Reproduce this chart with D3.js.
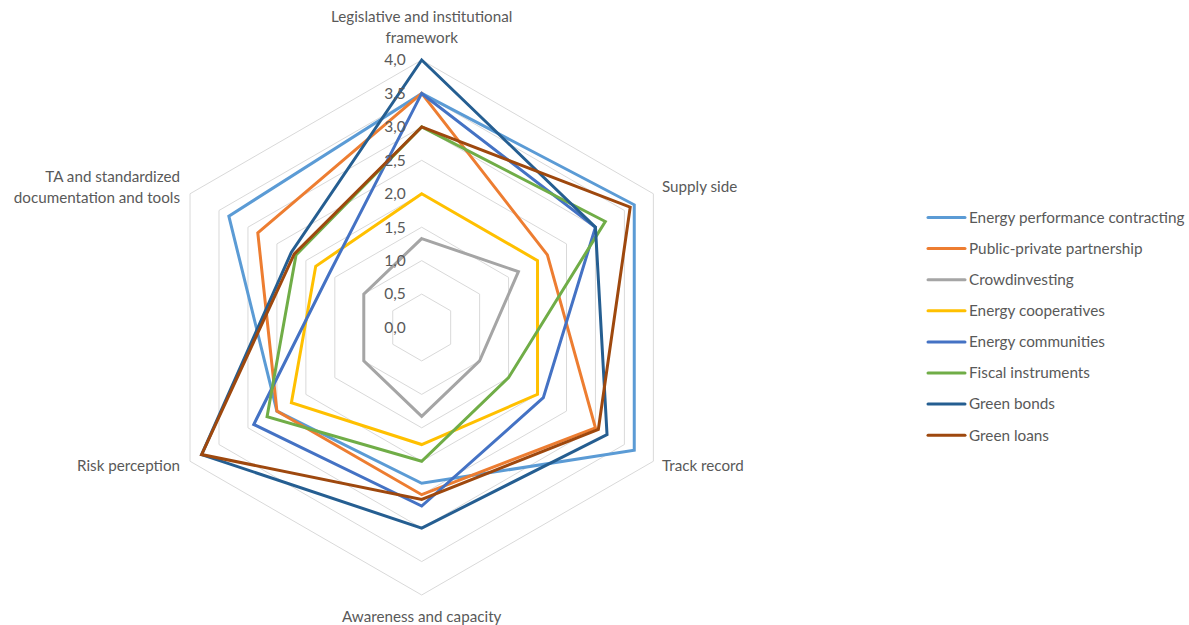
<!DOCTYPE html>
<html>
<head>
<meta charset="utf-8">
<script src="https://cdn.jsdelivr.net/npm/d3@7"></script>
<style>
  html, body { margin: 0; padding: 0; background: #fff; }
  svg { display: block; }
  text { font-family: Lato, "Open Sans", sans-serif; fill: #595959; }
</style>
</head>
<body>
<svg id="chart" width="1189" height="625"></svg>
<script>
// axis labels, clockwise from the top
const axes = [
  ['Legislative and institutional', 'framework'],
  ['Supply side'],
  ['Track record'],
  ['Awareness and capacity'],
  ['Risk perception'],
  ['TA and standardized', 'documentation and tools']
]

const ticks = [0, 0.5, 1, 1.5, 2, 2.5, 3, 3.5, 4]

const seriesNames = [
  'Energy performance contracting',
  'Public-private partnership',
  'Crowdinvesting',
  'Energy cooperatives',
  'Energy communities',
  'Fiscal instruments',
  'Green bonds',
  'Green loans'
]

const epc = [3.5, 3.67, 3.67, 2.33, 2.5, 3.33]
const ppp = [3.5, 2.17, 3.0, 2.5, 2.5, 2.83]
const crowd = [1.33, 1.67, 1.0, 1.33, 1.0, 1.0]
const coop = [2.0, 2.0, 2.0, 1.75, 2.25, 1.83]
const communities = [3.5, 3.0, 2.1, 2.67, 2.9, 1.6]
const fiscal = [3.0, 3.17, 1.5, 2.0, 2.67, 2.17]
const bonds = [4.0, 3.0, 3.2, 3.0, 3.8, 2.25]
const loans = [3.0, 3.6, 3.05, 2.57, 3.8, 2.2]

const seriesValues = [epc, ppp, crowd, coop, communities, fiscal, bonds, loans]
const colors = ['#5B9BD5', '#ED7D31', '#A5A5A5', '#FFC000', '#4472C4', '#70AD47', '#255E91', '#9E480E']

//

const svg = d3.select('#chart')
const cx = 421.7
const cy = 327.5

const r = d3.scaleLinear().domain([0, 4]).range([0, 267.5])
const angle = d3.scaleLinear().domain([0, axes.length]).range([0, 2 * Math.PI])

const point = (i, v) => [
  cx + r(v) * Math.sin(angle(i)),
  cy - r(v) * Math.cos(angle(i))
]

const closedLine = d3.line().curve(d3.curveLinearClosed)

// grid rings
svg.append('g')
  .selectAll('path')
  .data(ticks.filter((t) => t > 0))
  .join('path')
  .attr('d', (t) => closedLine(axes.map((a, i) => point(i, t))))
  .attr('fill', 'none')
  .attr('stroke', '#D9D9D9')
  .attr('stroke-width', 1)

// series
svg.append('g')
  .selectAll('path')
  .data(seriesValues)
  .join('path')
  .attr('d', (vals) => closedLine(vals.map((v, i) => point(i, v))))
  .attr('fill', 'none')
  .attr('stroke', (d, i) => colors[i])
  .attr('stroke-width', 3)
  .attr('stroke-linejoin', 'miter')

// tick labels
svg.append('g')
  .selectAll('text')
  .data(ticks)
  .join('text')
  .attr('x', cx - 16)
  .attr('y', (t) => cy - r(t))
  .attr('dy', '0.35em')
  .attr('text-anchor', 'end')
  .attr('font-size', 15.5)
  .text((t) => d3.format('.1f')(t).replace('.', ','))

// axis labels
const labelPos = [
  { x: cx, y: 17, anchor: 'middle' },
  { x: 662, y: 187, anchor: 'start' },
  { x: 662, y: 466, anchor: 'start' },
  { x: cx, y: 617, anchor: 'middle' },
  { x: 180, y: 466, anchor: 'end' },
  { x: 180, y: 177, anchor: 'end' }
]

svg.append('g')
  .selectAll('text')
  .data(axes)
  .join('text')
  .attr('text-anchor', (d, i) => labelPos[i].anchor)
  .attr('font-size', 15.2)
  .each(function (lines, i) {
    d3.select(this).selectAll('tspan')
      .data(lines)
      .join('tspan')
      .attr('x', labelPos[i].x)
      .attr('y', (l, j) => labelPos[i].y + j * 21)
      .attr('dy', '0.35em')
      .text((l) => l)
  })

// legend
const legend = svg.append('g')
  .selectAll('g')
  .data(seriesNames)
  .join('g')
  .attr('transform', (d, i) => `translate(928, ${217.5 + i * 31.1})`)

legend.append('line')
  .attr('x1', 0)
  .attr('x2', 37)
  .attr('stroke', (d, i) => colors[i])
  .attr('stroke-width', 3)
  .attr('stroke-linecap', 'round')

legend.append('text')
  .attr('x', 41)
  .attr('dy', '0.35em')
  .attr('font-size', 15.3)
  .text((d) => d)
</script>
</body>
</html>
